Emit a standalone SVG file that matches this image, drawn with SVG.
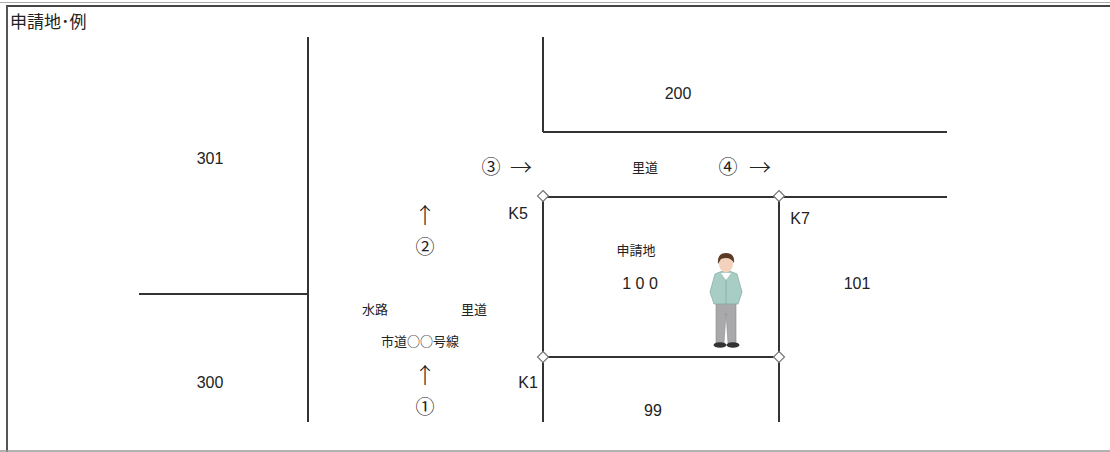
<svg xmlns="http://www.w3.org/2000/svg" width="1110" height="452" viewBox="0 0 1110 452">
  <style>
    .ln { stroke: #333; stroke-width: 2; fill: none; }
    .t { font-family: "Liberation Sans", "Noto Sans CJK JP", sans-serif; font-size: 16px; fill: #222; text-anchor: middle; }
    .k { font-family: "Noto Sans CJK JP", sans-serif; font-size: 13px; fill: #222; text-anchor: middle; }
    .s { font-family: "Noto Sans CJK JP", sans-serif; font-size: 19px; fill: #222; text-anchor: middle; }
    .a { font-family: "Noto Sans CJK JP", sans-serif; font-size: 22px; font-weight: 300; fill: #222; text-anchor: middle; }
    .pt { fill: #fff; stroke: #777; stroke-width: 1.2; }
  </style>
  <defs>
    <path id="corner" d="M0,-5.5 L5.5,0 L0,5.5 L-5.5,0 Z" class="pt"/>
  </defs>
  <rect width="1110" height="452" fill="#fff"/>

  <!-- frame -->
  <g id="frame">
    <line x1="0" y1="2.5" x2="1110" y2="2.5" stroke="#aaa" stroke-width="1"/>
    <line x1="6" y1="6" x2="1110" y2="6" stroke="#444" stroke-width="2"/>
    <line x1="7" y1="6" x2="7" y2="452" stroke="#555" stroke-width="2"/>
    <line x1="0" y1="451" x2="1110" y2="451" stroke="#999" stroke-width="1.5"/>
    <text x="10" y="28" font-family="Noto Sans CJK JP, sans-serif" font-size="17" fill="#222">申請地･例</text>
  </g>

  <!-- lot boundaries -->
  <g id="connectors">
    <line class="ln" x1="308" y1="37" x2="308" y2="422"/>
    <line class="ln" x1="139" y1="294" x2="308" y2="294"/>
    <line class="ln" x1="543" y1="37" x2="543" y2="132"/>
    <line class="ln" x1="543" y1="132" x2="947" y2="132"/>
    <line class="ln" x1="543" y1="197" x2="947" y2="197"/>
    <line class="ln" x1="543" y1="197" x2="543" y2="422"/>
    <line class="ln" x1="779" y1="197" x2="779" y2="422"/>
    <line class="ln" x1="543" y1="357" x2="779" y2="357"/>
  </g>

  <g id="lot-301"><text class="t" x="210" y="164">301</text></g>
  <g id="lot-300"><text class="t" x="210" y="388">300</text></g>
  <g id="lot-200"><text class="t" x="678" y="99">200</text></g>
  <g id="lot-101"><text class="t" x="857" y="289">101</text></g>
  <g id="lot-99"><text class="t" x="653" y="416">99</text></g>
  <g id="lot-100">
    <text class="k" x="636" y="255">申請地</text>
    <text class="t" x="640" y="289">1 0 0</text>
  </g>

  <g id="road-north">
    <text class="s" x="491" y="174">③</text>
    <text class="a" x="521" y="175">→</text>
    <text class="k" x="645" y="172">里道</text>
    <text class="s" x="728" y="174">④</text>
    <text class="a" x="760" y="175">→</text>
  </g>

  <g id="road-west">
    <text class="a" x="425" y="223">↑</text>
    <text class="s" x="425" y="254">②</text>
    <text class="k" x="375" y="314">水路</text>
    <text class="k" x="474" y="314">里道</text>
    <text class="k" x="420" y="346">市道○○号線</text>
    <text class="a" x="425" y="383">↑</text>
    <text class="s" x="425" y="414">①</text>
  </g>

  <g id="markers">
    <use href="#corner" x="543" y="196"/>
    <use href="#corner" x="779" y="196"/>
    <use href="#corner" x="543" y="357"/>
    <use href="#corner" x="779" y="357"/>
    <text class="t" x="518" y="219">K5</text>
    <text class="t" x="800" y="224">K7</text>
    <text class="t" x="528" y="388">K1</text>
  </g>

  <!-- standing figure -->
  <g id="person">
    <!-- legs -->
    <path d="M716,300 L736,300 L736,343 L728,343 L726,313 L724,343 L716,343 Z" fill="#a9a9ab" stroke="#8a8a8c" stroke-width="0.6"/>
    <!-- shoes -->
    <ellipse cx="720" cy="345" rx="6.5" ry="2.8" fill="#333"/>
    <ellipse cx="733" cy="345" rx="6.5" ry="2.8" fill="#333"/>
    <!-- cardigan -->
    <path d="M715,274 Q726,268 737,274 L742,292 L738,304 L714,304 L710,292 Z" fill="#a8cdc4" stroke="#7fa79e" stroke-width="0.7"/>
    <line x1="726" y1="277" x2="726" y2="304" stroke="#7fa79e" stroke-width="0.7"/>
    <!-- shirt collar -->
    <path d="M721,273 L726,280 L731,273 Z" fill="#fff"/>
    <!-- head -->
    <ellipse cx="726" cy="264" rx="7" ry="8.5" fill="#f3d2bd"/>
    <path d="M718,264 Q717,253 726,253 Q735,253 734,263 Q730,256 721,259 Z" fill="#5a3a26"/>
  </g>
</svg>
